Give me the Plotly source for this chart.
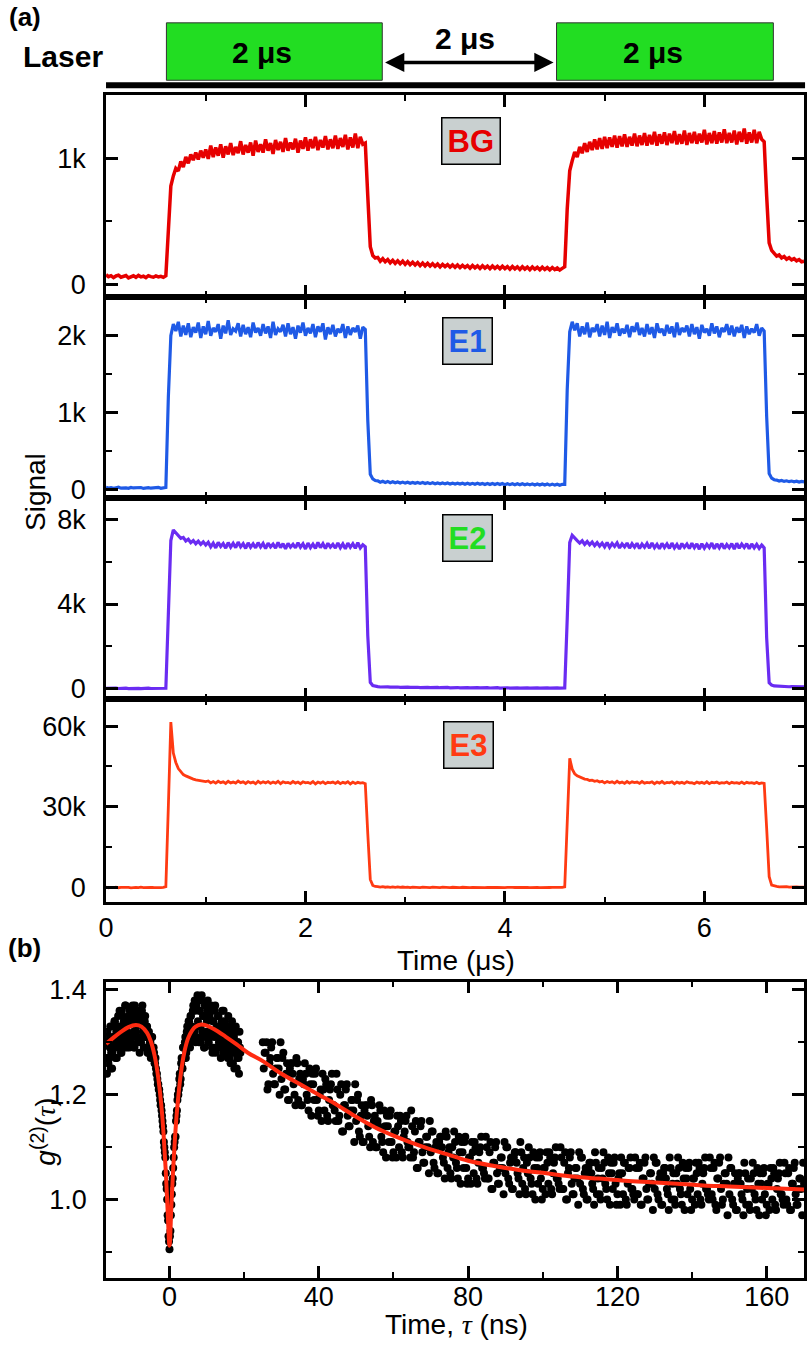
import plotly.graph_objects as go

W, H = 810, 1349

# ---------------- panel (a) data: time grid (us) and four signals ----------------
BG = [78, 62, 70, 55, 68, 74, 58, 66, 71, 52, 64, 69, 57, 72, 61, 66, 54, 70, 63, 58, 68, 60, 65, 57,
      70, 450, 780, 860, 920, 900, 975, 930, 1010, 960, 1030, 985, 1045, 990, 1060, 1005, 1070,
      995, 1100, 1010, 1085, 1020, 1110, 1005, 1095, 1030, 1120,
      1025, 1090, 1040, 1135, 1030, 1105, 1045, 1125, 1020, 1140,
      1050, 1110, 1045, 1150, 1060, 1120, 1035, 1145, 1065, 1130,
      1050, 1160, 1060, 1125, 1070, 1155, 1045, 1140, 1075, 1165,
      1060, 1150, 1080, 1170, 1065, 1145, 1085, 1175, 1070, 1150,
      1080, 1180, 1075, 1160, 1090, 1185, 1070, 1165, 1085, 1195,
      1080, 1170, 1110,
      1120, 700, 300, 230, 210,
      215, 185, 205, 180, 198, 172, 192, 168, 188, 165,
      185, 160, 182, 158, 176, 155, 174, 150, 170, 148,
      168, 146, 165, 144, 162, 140, 160, 142, 158, 138,
      156, 136, 155, 134, 152, 135, 150, 130, 151, 132,
      148, 128, 149, 130, 146, 126, 147, 128, 144, 125,
      145, 126, 142, 122, 143, 124, 140, 120, 141, 122,
      138, 118, 139, 121, 136, 117, 137, 119, 134, 116,
      135, 118, 132, 115, 128,
      140, 600, 900, 980, 1050,
      1010, 1090, 1040, 1120, 1050, 1130, 1065, 1150, 1070, 1160,
      1075, 1170, 1080, 1165, 1090, 1180, 1085, 1175, 1095, 1190,
      1090, 1170, 1100, 1195, 1095, 1180, 1105, 1200, 1100, 1185,
      1110, 1210, 1100, 1190, 1115, 1205, 1105, 1195, 1120, 1215,
      1110, 1190, 1115, 1220, 1105, 1200, 1120, 1210, 1115, 1195,
      1125, 1225, 1110, 1200, 1120, 1215, 1115, 1205, 1125, 1230,
      1120, 1200, 1125, 1220, 1110, 1210, 1130, 1235, 1115, 1205,
      1125, 1225, 1120, 1210, 1150,
      1130, 700, 330, 270, 245,
      225, 235, 210, 222, 200, 212, 195, 205, 188, 198, 180, 185]

E1 = [30, 22, 28, 18, 25, 32, 20, 27, 24, 19, 30, 23, 26, 21, 29, 17, 25, 28, 20, 26, 22, 31, 19, 24,
      30, 1200, 2000, 2150, 2060,
      2180, 1990, 2130, 2010, 2160, 1980, 2110, 2040, 2170, 1970,
      2120, 2020, 2190, 2000, 2100, 2050, 2150, 1960, 2130, 2030,
      2200, 2010, 2090, 2060, 2160, 1990, 2140, 2020, 2110, 1980,
      2170, 2040, 2100, 2000, 2150, 2030, 2120, 1970, 2180, 2010,
      2090, 2050, 2140, 1990, 2160, 2020, 2110, 1960, 2130, 2040,
      2170, 2000, 2100, 2030, 2150, 1980, 2120, 2050, 2160, 1950,
      2110, 2020, 2140, 1990, 2090, 2040, 2150, 1970, 2120, 2010,
      2100, 2050, 2130, 1960, 2110,
      2080, 900, 200, 140, 120,
      115, 98, 110, 95, 108, 92, 104, 90, 101, 88,
      99, 86, 97, 85, 95, 83, 94, 82, 93, 80,
      92, 79, 90, 78, 89, 77, 88, 76, 87, 75,
      86, 74, 85, 73, 85, 72, 84, 71, 83, 70,
      83, 70, 82, 69, 81, 68, 81, 68, 80, 67,
      80, 66, 79, 66, 78, 65, 78, 64, 77, 64,
      76, 63, 76, 62, 75, 62, 74, 61, 74, 60,
      73, 60, 72, 59, 71,
      70, 1300, 2050, 2180, 2070,
      2160, 1990, 2120, 2020, 2170, 1980, 2100, 2050, 2150, 1990,
      2130, 2010, 2180, 1970, 2110, 2040, 2160, 2000, 2090, 2030,
      2140, 1980, 2120, 2050, 2170, 2010, 2100, 1990, 2150, 2020,
      2110, 1970, 2160, 2040, 2090, 2000, 2140, 2030, 2120, 1980,
      2170, 2010, 2100, 2050, 2130, 1990, 2150, 2020, 2110, 1960,
      2140, 2040, 2090, 2000, 2160, 2030, 2120, 1980, 2100, 2050,
      2150, 2010, 2130, 1990, 2110, 2040, 2140, 1970, 2120, 2020,
      2090, 2040, 2150, 2000, 2100,
      2060, 950, 210, 150, 130,
      125, 112, 120, 108, 116, 105, 113, 103, 110, 100, 108, 102]

E2 = [10, 20, 5, 15, 25, 8, 18, 12, 22, 6, 16, 10, 20, 14, 4, 18, 12, 24, 8, 15, 10, 20, 6, 14,
      20, 3500, 7000, 7500, 7350, 7250, 7100, 7150, 6980, 7060, 6900, 7000, 6850, 6970, 6820, 6940, 6790,
      6920, 6700, 6880, 6650, 6910, 6720, 6860, 6640, 6900, 6690,
      6870, 6660, 6930, 6700, 6850, 6630, 6890, 6680, 6840, 6650,
      6900, 6690, 6860, 6620, 6880, 6700, 6830, 6640, 6910, 6670,
      6850, 6610, 6870, 6690, 6820, 6650, 6900, 6680, 6840, 6600,
      6880, 6660, 6830, 6630, 6910, 6670, 6850, 6620, 6870, 6690,
      6820, 6640, 6890, 6660, 6840, 6610, 6880, 6680, 6850, 6630,
      6900, 6650, 6800,
      6700, 2500, 300, 150, 110,
      95, 80, 90, 72, 85, 70, 82, 66, 78, 62,
      75, 60, 72, 58, 70, 55, 68, 52, 66, 50,
      64, 48, 62, 46, 60, 45, 58, 44, 57, 42,
      55, 40, 54, 39, 53, 38, 52, 36, 50, 35,
      49, 34, 48, 33, 47, 32, 46, 31, 45, 30,
      44, 30, 43, 29, 42, 28, 41, 28, 40, 27,
      40, 26, 39, 26, 38, 25, 37, 25, 36, 24,
      36, 24, 35, 23, 34,
      30, 3300, 6900, 7250, 7100,
      7000, 6880, 6990, 6820, 6950, 6800, 6930, 6760, 6900, 6740,
      6880, 6700, 6910, 6680, 6860, 6720, 6890, 6650, 6840, 6700,
      6880, 6640, 6850, 6690, 6870, 6620, 6830, 6680, 6860, 6640,
      6890, 6660, 6820, 6610, 6870, 6670, 6840, 6630, 6880, 6650,
      6810, 6600, 6860, 6680, 6830, 6620, 6870, 6660, 6840, 6590,
      6850, 6640, 6820, 6670, 6880, 6610, 6840, 6650, 6860, 6620,
      6810, 6660, 6850, 6600, 6870, 6640, 6830, 6670, 6850, 6610,
      6840, 6650, 6820, 6630, 6790,
      6650, 2400, 280, 170, 130,
      120, 105, 112, 98, 106, 92, 100, 90, 96, 86, 92, 84]

E3 = [120, -80, 60, -40, 150, -100, 30, 90, -60, 40, -120, 80, 10, -50, 110, -30, 70, -90, 50, 0, -70, 100, -20, 60,
      300, 30000, 61500, 50000, 46500, 44200, 43000, 42000, 41500, 41000, 40600, 40300, 40000, 39900, 39600, 39700, 39400,
      39600, 38900, 39400, 38800, 39500, 39000, 39300, 38700, 39500, 38900,
      39200, 38800, 39600, 39000, 39300, 38700, 39400, 38900, 39200, 38600,
      39500, 38800, 39300, 38900, 39400, 38700, 39200, 38800, 39500, 38600,
      39300, 38900, 39100, 38700, 39400, 38800, 39200, 38600, 39300, 38900,
      39100, 38700, 39400, 38500, 39200, 38800, 39300, 38600, 39100, 38900,
      39200, 38700, 39300, 38600, 39100, 38800, 39300, 38500, 39200, 38700,
      39100, 38800, 39000,
      38600, 20000, 3000, 800, 400,
      350, 150, 300, 100, 250, 80, 220, 60, 200, 40,
      180, 20, 160, -20, 150, 0, 130, -30, 120, 10,
      100, -40, 110, 0, 90, -50, 100, -10, 80, -40,
      90, 0, 70, -60, 80, -20, 60, -50, 70, 0,
      50, -60, 60, -30, 40, -50, 50, 0, 30, -70,
      40, -20, 50, -60, 30, 0, 40, -50, 20, -30,
      40, -60, 30, 0, 20, -40, 30, -50, 10, 0,
      20, -40, 30, -30, 10,
      200, 25000, 48000, 44000, 42300,
      41500, 41000, 40700, 40300, 40200, 39800, 39900, 39500, 39700, 39200,
      39500, 38900, 39400, 39000, 39300, 38800, 39500, 38900, 39200, 38700,
      39400, 38800, 39300, 39000, 39200, 38700, 39400, 38800, 39100, 38900,
      39300, 38600, 39200, 38800, 39400, 38700, 39100, 38900, 39300, 38600,
      39200, 38800, 39100, 38700, 39300, 38900, 39000, 38600, 39200, 38800,
      39100, 38700, 39300, 38600, 39100, 38900, 39200, 38700, 39000, 38800,
      39200, 38600, 39100, 38800, 39000, 38700, 39200, 38600, 39100, 38800,
      39000, 38700, 39100, 38600, 38900,
      38700, 22000, 4000, 900, 500,
      400, 250, 350, 200, 300, 150, 250, 120, 220, 100, 180, 90]

T_STEP_US = 0.025
t_us = [round(i * T_STEP_US, 3) for i in range(len(BG))]

# ---------------- panel (b) data ----------------
G2_NEAR = [1.30, 1.24, 1.31, 1.27, 1.29, 1.25, 1.33, 1.28, 1.31, 1.34, 1.27, 1.32,
           1.29, 1.35, 1.30, 1.33, 1.28, 1.36, 1.31, 1.34, 1.29, 1.37, 1.32, 1.30,
           1.35, 1.29, 1.34, 1.36, 1.31, 1.35, 1.29, 1.37, 1.32, 1.36, 1.30, 1.34,
           1.28, 1.35, 1.31, 1.37, 1.33, 1.29, 1.35, 1.31, 1.33, 1.28, 1.32, 1.30,
           1.27, 1.31, 1.28, 1.29, 1.26, 1.27, 1.24, 1.23, 1.22, 1.21, 1.19, 1.18,
           1.16, 1.14, 1.11, 1.09, 1.05, 1.02, 0.97, 0.93, 0.905, 0.94, 0.99, 1.03,
           1.06, 1.10, 1.12, 1.15, 1.17, 1.20, 1.21, 1.24, 1.23, 1.27, 1.25, 1.29,
           1.27, 1.31, 1.28, 1.33, 1.30, 1.34, 1.29, 1.35, 1.31, 1.36, 1.32, 1.38,
           1.30, 1.37, 1.39, 1.33, 1.36, 1.30, 1.38, 1.32, 1.35, 1.29, 1.37, 1.31,
           1.34, 1.38, 1.30, 1.35, 1.32, 1.36, 1.28, 1.34, 1.31, 1.37, 1.29, 1.33,
           1.35, 1.30, 1.32, 1.27, 1.34, 1.29, 1.36, 1.31, 1.28, 1.33, 1.30, 1.35,
           1.27, 1.32, 1.29, 1.34, 1.26, 1.31, 1.28, 1.33, 1.25, 1.30, 1.27, 1.32,
           1.28]
TAU_NEAR_START, TAU_NEAR_STEP = -17.0, 0.25
tau_near = [TAU_NEAR_START + i * TAU_NEAR_STEP for i in range(len(G2_NEAR))]

G2_NEAR_B = [1.27, 1.32, 1.26, 1.30, 1.33, 1.28, 1.25, 1.31, 1.29, 1.34, 1.30, 1.27,
             1.33, 1.29, 1.36, 1.31, 1.28, 1.35, 1.32, 1.30, 1.37, 1.33, 1.29, 1.34,
             1.31, 1.36, 1.30, 1.34, 1.37, 1.32, 1.29, 1.35, 1.33, 1.31, 1.36, 1.30,
             1.34, 1.30, 1.36, 1.32, 1.29, 1.34, 1.31, 1.33, 1.28, 1.31, 1.29, 1.30,
             1.29, 1.31, 1.27, 1.28, 1.26, 1.25, 1.24, 1.22, 1.21, 1.20, 1.18, 1.17,
             1.15, 1.13, 1.10, 1.08, 1.03, 1.00, 0.96, 0.92, 0.93, 0.97, 1.01, 1.04,
             1.08, 1.11, 1.12, 1.16, 1.19, 1.20, 1.23, 1.22, 1.26, 1.25, 1.29, 1.27,
             1.30, 1.27, 1.32, 1.29, 1.34, 1.30, 1.35, 1.31, 1.33, 1.37, 1.32, 1.36,
             1.31, 1.38, 1.34, 1.30, 1.36, 1.33, 1.39, 1.31, 1.35, 1.29, 1.37, 1.32,
             1.36, 1.30, 1.35, 1.31, 1.37, 1.29, 1.34, 1.32, 1.36, 1.28, 1.33, 1.31,
             1.35, 1.29, 1.33, 1.30, 1.36, 1.28, 1.32, 1.34, 1.29, 1.31, 1.27, 1.33,
             1.30, 1.26, 1.33, 1.28, 1.31, 1.25, 1.29, 1.32, 1.27, 1.30, 1.24, 1.29]
TAU_NEAR_B_START = -16.875
tau_near_b = [TAU_NEAR_B_START + i * TAU_NEAR_STEP for i in range(len(G2_NEAR_B))]

G2_TAIL = [1.30, 1.28, 1.30, 1.22, 1.27, 1.30, 1.22, 1.25, 1.27, 1.20,
           1.23, 1.28, 1.21, 1.26, 1.19, 1.26, 1.24, 1.20, 1.27, 1.19,
           1.24, 1.18, 1.22, 1.24, 1.19, 1.25, 1.16, 1.22, 1.24, 1.19,
           1.17, 1.21, 1.24, 1.17, 1.22, 1.15, 1.21, 1.24, 1.18, 1.15,
           1.21, 1.16, 1.22, 1.13, 1.18, 1.22, 1.14, 1.17, 1.19, 1.11,
           1.15, 1.20, 1.12, 1.18, 1.11, 1.18, 1.16, 1.12, 1.19, 1.11,
           1.16, 1.10, 1.14, 1.17, 1.11, 1.17, 1.08, 1.14, 1.16, 1.11,
           1.09, 1.13, 1.16, 1.10, 1.15, 1.08, 1.13, 1.16, 1.10, 1.08,
           1.14, 1.09, 1.15, 1.06, 1.11, 1.15, 1.07, 1.10, 1.12, 1.05,
           1.09, 1.13, 1.06, 1.11, 1.05, 1.12, 1.10, 1.07, 1.13, 1.06,
           1.10, 1.04, 1.08, 1.11, 1.06, 1.12, 1.03, 1.09, 1.11, 1.06,
           1.04, 1.08, 1.11, 1.05, 1.10, 1.03, 1.09, 1.12, 1.06, 1.04,
           1.10, 1.04, 1.11, 1.02, 1.07, 1.11, 1.03, 1.06, 1.08, 1.01,
           1.05, 1.10, 1.03, 1.08, 1.02, 1.09, 1.07, 1.04, 1.11, 1.03,
           1.08, 1.01, 1.05, 1.08, 1.03, 1.09, 1.00, 1.06, 1.08, 1.04,
           1.02, 1.06, 1.09, 1.03, 1.08, 1.01, 1.07, 1.10, 1.04, 1.02,
           1.08, 1.02, 1.09, 1.00, 1.06, 1.09, 1.01, 1.04, 1.06, 0.99,
           1.03, 1.08, 1.01, 1.06, 1.00, 1.07, 1.05, 1.02, 1.09, 1.01,
           1.06, 1.00, 1.04, 1.07, 1.02, 1.08, 0.99, 1.05, 1.07, 1.03,
           1.01, 1.05, 1.08, 1.01, 1.07, 0.99, 1.06, 1.08, 1.02, 1.00,
           1.06, 1.01, 1.07, 0.99, 1.04, 1.08, 1.00, 1.03, 1.05, 0.98,
           1.02, 1.07, 1.00, 1.05, 0.99, 1.06, 1.04, 1.01, 1.08, 1.00,
           1.05, 0.99, 1.03, 1.06, 1.01, 1.07, 0.98, 1.04, 1.06, 1.02,
           1.00, 1.04, 1.07, 1.01, 1.06, 0.99, 1.05, 1.08, 1.02, 1.00,
           1.06, 1.00, 1.07, 0.98, 1.04, 1.08, 0.99, 1.03, 1.05, 0.97,
           1.01, 1.06, 0.99, 1.05, 0.98, 1.05, 1.03, 1.00, 1.07, 0.99,
           1.04, 0.98, 1.02, 1.05, 1.00, 1.06, 0.97, 1.03, 1.05, 1.01,
           0.99, 1.03, 1.06, 1.00, 1.05, 0.98, 1.04, 1.07, 1.01, 0.99,
           1.05, 0.99, 1.06, 0.98, 1.03, 1.07, 0.99, 1.02, 1.04, 0.97, 1.03]
TAU_TAIL_START, TAU_TAIL_STEP = 25.0, 0.5
tau_tail = [TAU_TAIL_START + i * TAU_TAIL_STEP for i in range(len(G2_TAIL))]

G2_TAIL_B = [1.25, 1.28, 1.21, 1.26, 1.29, 1.24, 1.22, 1.27, 1.25, 1.30,
             1.27, 1.21, 1.24, 1.19, 1.25, 1.26, 1.22, 1.18, 1.26, 1.23,
             1.18, 1.23, 1.26, 1.20, 1.17, 1.22, 1.24, 1.19, 1.25, 1.16,
             1.20, 1.15, 1.21, 1.23, 1.16, 1.19, 1.22, 1.18, 1.17, 1.24,
             1.15, 1.20, 1.13, 1.18, 1.21, 1.16, 1.14, 1.19, 1.17, 1.22,
             1.19, 1.13, 1.16, 1.11, 1.17, 1.18, 1.14, 1.10, 1.18, 1.15,
             1.10, 1.15, 1.18, 1.12, 1.09, 1.14, 1.16, 1.11, 1.17, 1.08,
             1.13, 1.08, 1.14, 1.16, 1.09, 1.12, 1.15, 1.11, 1.10, 1.17,
             1.08, 1.13, 1.06, 1.11, 1.14, 1.09, 1.07, 1.12, 1.10, 1.15,
             1.13, 1.07, 1.10, 1.05, 1.11, 1.12, 1.08, 1.04, 1.12, 1.09,
             1.05, 1.10, 1.13, 1.07, 1.04, 1.09, 1.11, 1.06, 1.12, 1.03,
             1.08, 1.03, 1.09, 1.11, 1.04, 1.07, 1.10, 1.06, 1.05, 1.12,
             1.04, 1.09, 1.02, 1.07, 1.10, 1.05, 1.03, 1.08, 1.06, 1.11,
             1.10, 1.04, 1.07, 1.02, 1.08, 1.09, 1.05, 1.01, 1.09, 1.06,
             1.02, 1.07, 1.10, 1.04, 1.01, 1.06, 1.08, 1.03, 1.09, 1.00,
             1.06, 1.01, 1.07, 1.09, 1.02, 1.05, 1.08, 1.04, 1.03, 1.10,
             1.02, 1.07, 1.00, 1.05, 1.08, 1.03, 1.01, 1.06, 1.04, 1.09,
             1.08, 1.02, 1.05, 1.00, 1.06, 1.07, 1.03, 0.99, 1.07, 1.04,
             1.01, 1.06, 1.09, 1.03, 1.00, 1.05, 1.07, 1.02, 1.08, 0.99,
             1.04, 0.99, 1.05, 1.07, 1.00, 1.03, 1.06, 1.02, 1.01, 1.08,
             1.01, 1.06, 0.99, 1.04, 1.07, 1.02, 1.00, 1.05, 1.03, 1.08,
             1.07, 1.01, 1.04, 0.99, 1.05, 1.06, 1.02, 0.98, 1.06, 1.03,
             1.00, 1.05, 1.08, 1.02, 0.99, 1.04, 1.06, 1.01, 1.07, 0.98,
             1.04, 0.99, 1.05, 1.07, 1.00, 1.03, 1.06, 1.02, 1.01, 1.08,
             1.01, 1.06, 0.99, 1.04, 1.07, 1.02, 1.00, 1.05, 1.03, 1.08,
             1.06, 1.00, 1.03, 0.98, 1.04, 1.05, 1.01, 0.97, 1.05, 1.02,
             0.99, 1.04, 1.07, 1.01, 0.98, 1.03, 1.05, 1.00, 1.06, 0.97,
             1.03, 0.98, 1.04, 1.06, 0.99, 1.02, 1.05, 1.01, 1.00, 1.07,
             1.00, 1.05, 0.98, 1.03, 1.06, 1.01, 0.99, 1.04, 1.02, 1.07]
TAU_TAIL_B_START = 25.25
tau_tail_b = [TAU_TAIL_B_START + i * TAU_TAIL_STEP for i in range(len(G2_TAIL_B))]

FIT_TAU = [-17, -15, -13, -11, -9, -7.5, -6, -5, -4, -3, -2, -1.5, -1, -0.5, 0, 0.5, 1, 1.5, 2, 3,
           4, 5, 6, 7, 8.5, 10, 12, 15, 18, 21, 25, 30, 35, 40, 45, 50, 55, 60, 67, 74,
           80, 87, 94, 101, 108, 115, 122, 129, 136, 143, 150, 160, 170]
FIT_G2 = [1.297, 1.309, 1.320, 1.329, 1.333, 1.330, 1.318, 1.302, 1.275, 1.232, 1.165, 1.115, 1.055, 0.980,
          0.912, 0.985, 1.060, 1.120, 1.168, 1.238, 1.282, 1.308, 1.322, 1.330, 1.334, 1.332, 1.325, 1.311,
          1.296, 1.280, 1.264, 1.240, 1.220, 1.200, 1.180, 1.158, 1.138, 1.122, 1.103, 1.087, 1.074, 1.064,
          1.056, 1.050, 1.044, 1.040, 1.036, 1.033, 1.030, 1.027, 1.025, 1.022, 1.019]

SERIES = [("BG", BG, "#e60000", "#e60000", 3.5),
          ("E1", E1, "#1f5ae6", "#1f5ae6", 3.2),
          ("E2", E2, "#6a2cf2", "#22dd22", 3.2),
          ("E3", E3, "#ff3a12", "#ff3a12", 2.8)]
Y_RANGES = [[-100, 1500], [-110, 2500], [-500, 9000], [-5500, 70000]]
Y_DTICK = [1000, 1000, 4000, 30000]
ROWS_PX = [(90, 294), (294, 497), (497, 700), (700, 905)]
LABEL_PX = [(468, 136.5), (464, 338.5), (464, 537.5), (465, 746.5)]

FONT = "Liberation Sans, Arial, sans-serif"
SERIF_TAU = "<span style=\"font-family:'Liberation Serif', 'DejaVu Serif', serif\"><i>τ</i></span>"

def px(x):
    return x / W

def py(y):
    return 1 - y / H

XDOM = [px(99), px(804)]

def minor(dt):
    return dict(ticks="inside", ticklen=6, tickwidth=2, tickcolor="black", dtick=dt)

def axstyle(**kw):
    d = dict(showline=True, linewidth=2.5, linecolor="black", mirror="ticks",
             ticks="inside", ticklen=12, tickwidth=2.5, tickcolor="black",
             showgrid=False, zeroline=False,
             tickfont=dict(family=FONT, size=27, color="black"))
    d.update(kw)
    return d

fig = go.Figure()
layout = {}
annotations = []

for k, (name, vals, col, lab_col, lw) in enumerate(SERIES):
    n = k + 1
    xa = "x" if n == 1 else f"x{n}"
    ya = "y" if n == 1 else f"y{n}"
    fig.add_trace(go.Scatter(x=t_us, y=vals, mode="lines", line=dict(color=col, width=lw),
                             xaxis=xa, yaxis=ya, showlegend=False, hoverinfo="skip"))
    top, bot = ROWS_PX[k]
    layout["xaxis" if n == 1 else f"xaxis{n}"] = axstyle(
        domain=XDOM, anchor=ya, range=[0, 7], tick0=0, dtick=2, minor=minor(1),
        showticklabels=(n == 4), ticklabelstandoff=0)
    layout["yaxis" if n == 1 else f"yaxis{n}"] = axstyle(
        domain=[py(bot), py(top)], anchor=xa, range=Y_RANGES[k], tick0=0, dtick=Y_DTICK[k],
        tickformat="~s", ticklabelstandoff=12, minor=minor(Y_DTICK[k] / 2))
    lx, ly = LABEL_PX[k]
    annotations.append(dict(x=px(lx), y=py(ly), xref="paper", yref="paper", showarrow=False,
                            xanchor="center", yanchor="middle",
                            text=f"<b>{name}</b>", font=dict(family=FONT, size=31, color=lab_col),
                            bgcolor="#c9d0d0", bordercolor="black", borderwidth=1.5, borderpad=5))

# panel (b)
for tx, gy in [(tau_near, G2_NEAR), (tau_near_b, G2_NEAR_B), (tau_tail, G2_TAIL), (tau_tail_b, G2_TAIL_B)]:
    fig.add_trace(go.Scatter(x=tx, y=gy, mode="markers", marker=dict(color="black", size=8),
                             xaxis="x5", yaxis="y5", showlegend=False, hoverinfo="skip"))
fig.add_trace(go.Scatter(x=FIT_TAU, y=FIT_G2, mode="lines", line=dict(color="#ff2a10", width=4, shape="spline"),
                         xaxis="x5", yaxis="y5", showlegend=False, hoverinfo="skip"))
layout["xaxis5"] = axstyle(domain=XDOM, anchor="y5", range=[-17, 170], tick0=0, dtick=40,
                           minor=minor(20), ticklabelstandoff=-7)
layout["yaxis5"] = axstyle(domain=[py(1284), py(985)], anchor="x5", range=[0.851, 1.416], tick0=0, dtick=0.2,
                           tickformat=".1f", ticklabelstandoff=11, minor=minor(0.1))

# texts
def text(x, y, s, size, bold=False, angle=0, color="black"):
    annotations.append(dict(x=px(x), y=py(y), xref="paper", yref="paper", showarrow=False,
                            xanchor="center", yanchor="middle",
                            text=f"<b>{s}</b>" if bold else s, textangle=angle,
                            font=dict(family=FONT, size=size, color=color)))

text(17, 11, "(a)", 26, bold=True)
text(17, 951, "(b)", 26, bold=True)
text(56, 51, "Laser", 30, bold=True)
text(257, 47, "2 μs", 30, bold=True)
text(651, 47, "2 μs", 30, bold=True)
text(462, 33, "2 μs", 30, bold=True)
text(452, 964, "Time (μs)", 28)
text(453, 1331, "Time, " + SERIF_TAU + " (ns)", 28)
text(28, 491, "Signal", 28, angle=-90)
text(36, 1137, "<i>g</i><sup>(2)</sup>(" + SERIF_TAU + ")", 28, angle=-90)

# double arrow between laser pulses
annotations.append(dict(x=px(551), y=py(57), ax=-170, ay=0, xref="paper", yref="paper",
                        axref="pixel", ayref="pixel", showarrow=True, text="",
                        arrowhead=2, arrowside="end+start", arrowsize=1.1, arrowwidth=3.5, arrowcolor="black"))

shapes = [
    dict(type="rect", xref="paper", yref="paper", x0=px(160), x1=px(378), y0=py(75), y1=py(17),
         fillcolor="#22dd22", line=dict(color="#333333", width=1), layer="below"),
    dict(type="rect", xref="paper", yref="paper", x0=px(554), x1=px(773), y0=py(75), y1=py(17),
         fillcolor="#22dd22", line=dict(color="#333333", width=1), layer="below"),
    dict(type="rect", xref="paper", yref="paper", x0=px(99), x1=px(805), y0=py(83), y1=py(77),
         fillcolor="black", line=dict(width=0)),
]

fig.update_layout(width=W, height=H, margin=dict(l=0, r=0, t=0, b=0, pad=0),
                  paper_bgcolor="white", plot_bgcolor="white",
                  font=dict(family=FONT, size=26, color="black"),
                  annotations=annotations, shapes=shapes, showlegend=False, **layout)

fig.write_html("out.html")
